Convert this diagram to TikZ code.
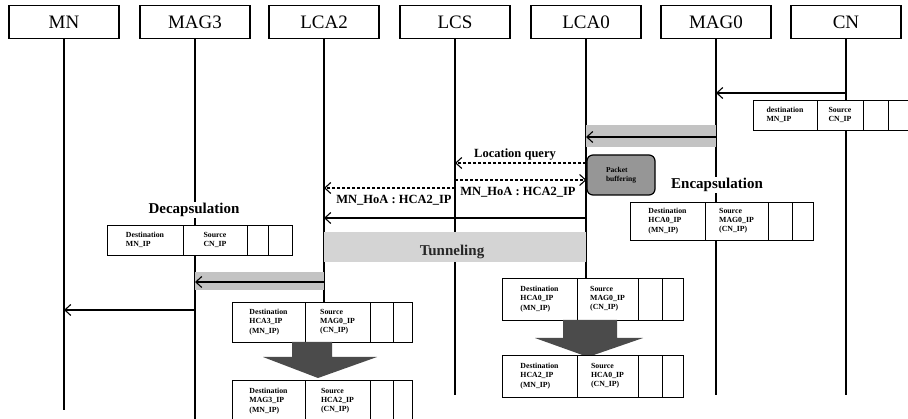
\documentclass[tikz,border=0pt]{standalone}
\usepackage{fontspec}
\setmainfont{Liberation Serif}
\usepackage{tikz}
\usetikzlibrary{positioning, arrows.meta}
\definecolor{bandGray}{RGB}{195,195,195}
\definecolor{tunnelGray}{RGB}{212,212,212}
\definecolor{bufGray}{RGB}{150,150,150}
\definecolor{blockGray}{RGB}{75,75,75}
\tikzset{
  entity/.style={draw, line width=1.6pt, minimum width=110pt, minimum height=33pt, inner sep=0pt, font=\fontsize{19}{19}\selectfont},
  lifeline/.style={line width=1.3pt},
  msg/.style={line width=1.1pt, -{Straight Barb[length=6pt, width=11pt]}},
  qmsg/.style={msg, dash pattern=on 3pt off 2pt},
  cell/.style={draw, fill=white, line width=0.8pt, outer sep=0pt, inner sep=2pt, minimum height=#1, align=left, anchor=west, font=\fontsize{7.8}{9.2}\selectfont\bfseries},
  cell/.default=40pt,
  lbl/.style={font=\fontsize{12.5}{12.5}\selectfont\bfseries},
  biglbl/.style={font=\fontsize{15}{15}\selectfont\bfseries, fill=white, inner sep=1pt},
  buffer/.style={draw, line width=1.2pt, rounded corners=6pt, fill=bufGray, minimum width=68pt, minimum height=40pt, align=left, font=\fontsize{7.5}{9}\selectfont\bfseries},
}
% one packet: name, west point, height, four widths, destination, source
\newcommand{\packet}[9]{%
  \node[cell=#3, minimum width=#4] (#1-dst) at (#2) {#8};
  \node[cell=#3, minimum width=#5, right=0pt of #1-dst] (#1-src) {#9};
  \node[cell=#3, minimum width=#6, right=0pt of #1-src] (#1-e1) {};
  \node[cell=#3, minimum width=#7, right=0pt of #1-e1] (#1-e2) {};
}
\begin{document}
\begin{tikzpicture}[x=1pt, y=-1pt]
  \clip (0,0) rectangle (908,419);
  \fill[white] (0,0) rectangle (908,419);
  % entities and lifelines
  \foreach \n/\x/\e in {MN/64/410, MAG3/195/419, LCA2/324/302, LCS/455/395, LCA0/586/278, MAG0/716/395, CN/846/395} {
    \node[entity] (\n) at (\x,22) {\n};
    \draw[lifeline] (\n.south) -- (\n |- 0,\e);
  }
  % CN -> MAG0
  \draw[msg] (CN |- 0,93) -- (MAG0 |- 0,93);
  \packet{cnp}{753,115}{30pt}{64pt}{46pt}{25pt}{30pt}{destination\\MN\_IP}{Source\\CN\_IP}
  % MAG0 -> LCA0
  \fill[bandGray] (LCA0 |- 0,125) rectangle (MAG0 |- 0,147);
  \draw[msg] (MAG0 |- 0,137) -- (LCA0 |- 0,137);
  \node[buffer] (buf) at (621,175) {Packet\\buffering};
  % location query
  \draw[qmsg] (buf.west |- 0,163) -- (LCS |- 0,163);
  \node[lbl] (lq) at (515,155) {Location query};
  \draw[qmsg] (LCS |- 0,180) -- (buf.west |- 0,180);
  \node[lbl] (hoa1) at (518,192) {MN\_HoA : HCA2\_IP};
  \draw[qmsg] (LCS |- 0,188) -- (LCA2 |- 0,188);
  \node[lbl] (hoa2) at (394,200) {MN\_HoA : HCA2\_IP};
  \draw[msg] (LCA0 |- 0,218) -- (LCA2 |- 0,218);
  % encapsulation at MAG0
  \node[biglbl] (encap) at (717,185) {Encapsulation};
  \packet{enc}{630,221}{38pt}{75pt}{63pt}{24pt}{21pt}{Destination\\HCA0\_IP\\(MN\_IP)}{Source\\MAG0\_IP\\(CN\_IP)}
  % tunnel LCA0 -> LCA2
  \fill[tunnelGray] (LCA2 |- 0,232) rectangle (LCA0 |- 0,262);
  \node[font=\fontsize{15}{15}\selectfont\bfseries, text=black!85] (tun) at (452,252) {Tunneling};
  % decapsulation at MAG3
  \node[biglbl] (decap) at (194,210) {Decapsulation};
  \packet{dec}{107,240}{30pt}{76pt}{64pt}{21pt}{24pt}{Destination\\MN\_IP}{Source\\CN\_IP}
  % LCA2 -> MAG3 -> MN
  \fill[bandGray] (MAG3 |- 0,272) rectangle (LCA2 |- 0,290);
  \draw[msg] (LCA2 |- 0,282) -- (MAG3 |- 0,282);
  \draw[msg] (MAG3 |- 0,310) -- (MN |- 0,310);
  % header swap at LCA0
  \packet{la}{502,299}{42pt}{75pt}{61pt}{24pt}{21pt}{Destination\\HCA0\_IP\\(MN\_IP)}{Source\\MAG0\_IP\\(CN\_IP)}
  \fill[blockGray] (563,320) -- (617,320) -- (617,338) -- (643,338) -- (588,357) -- (535,338) -- (563,338) -- cycle;
  \packet{lb}{502,376}{42pt}{75pt}{61pt}{24pt}{21pt}{Destination\\HCA2\_IP\\(MN\_IP)}{Source\\HCA0\_IP\\(CN\_IP)}
  % header swap at LCA2
  \packet{ka}{232,322}{40pt}{73pt}{65pt}{23pt}{19pt}{Destination\\HCA3\_IP\\(MN\_IP)}{Source\\MAG0\_IP\\(CN\_IP)}
  \fill[blockGray] (292,342) -- (332,342) -- (332,357) -- (377,357) -- (318,378) -- (263,357) -- (292,357) -- cycle;
  \packet{kb}{232,401}{42pt}{73pt}{65pt}{23pt}{19pt}{Destination\\MAG3\_IP\\(MN\_IP)}{Source\\HCA2\_IP\\(CN\_IP)}
\end{tikzpicture}
\end{document}
